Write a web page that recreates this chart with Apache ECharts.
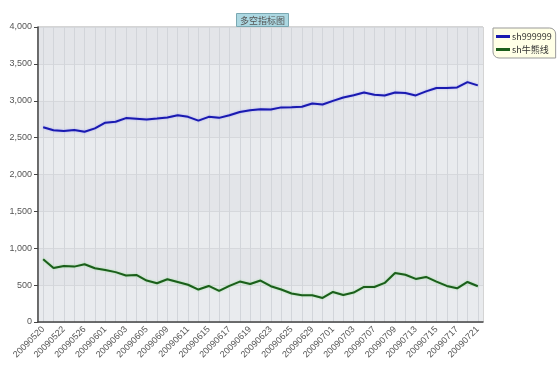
<!DOCTYPE html>
<html><head><meta charset="utf-8">
<script src="https://cdn.jsdelivr.net/npm/echarts@6/dist/echarts.min.js"></script>
<style>html,body{margin:0;padding:0;background:#fff}#c{width:560px;height:382px}</style>
</head><body><div id="c"></div>
<script>
const titleText = '多空指标图';
const dates = ['20090520','20090521','20090522','20090525','20090526','20090527',
 '20090601','20090602','20090603','20090604','20090605','20090608','20090609','20090610','20090611','20090612',
 '20090615','20090616','20090617','20090618','20090619','20090622','20090623','20090624','20090625','20090626',
 '20090629','20090630','20090701','20090702','20090703','20090706','20090707','20090708','20090709','20090710',
 '20090713','20090714','20090715','20090716','20090717','20090720','20090721'];
const seriesNames = ['sh999999','sh牛熊线'];
const sh999999 = [2640,2600,2590,2602,2580,2625,2703,2715,2765,2755,2745,2758,2772,2803,2782,2730,
 2782,2768,2803,2848,2872,2886,2882,2910,2913,2918,2963,2950,2998,3045,3075,3112,3082,3072,3112,3104,
 3072,3127,3172,3172,3180,3252,3208];
const shBull = [851,731,760,751,783,729,706,676,630,638,562,526,580,543,505,440,
 489,421,489,548,516,562,485,440,386,362,362,326,407,366,399,475,475,530,665,640,
 584,611,548,489,457,543,485];
const yTicks = {min:0, max:4000, interval:500};

const chart = echarts.init(document.getElementById('c'), null, {renderer:'canvas'});
chart.setOption({
  animation:false,
  backgroundColor:'#fff',
  title:{text:titleText, left:236, top:13,
    backgroundColor:'#acd8e2', borderColor:'#7aa8b2', borderWidth:1, padding:[3,4,2,4],
    textStyle:{fontSize:9, fontWeight:'normal', color:'#555', fontFamily:'Noto Sans CJK SC'}},
  legend:{orient:'vertical', left:493, top:28, itemWidth:14, itemHeight:3, itemGap:4,
    backgroundColor:'#ffffe6', borderColor:'#999', borderWidth:1, borderRadius:[0,6,0,6],
    padding:[4,4,4,3],
    textStyle:{fontSize:9, color:'#333', fontFamily:'Noto Sans CJK SC', padding:[0,0,0,-3]},
    icon:'rect',
    data:seriesNames},
  grid:{left:38, right:77, top:27, bottom:60, show:true, borderColor:'#aaa', borderWidth:1,
    backgroundColor:'#e7e9ec'},
  xAxis:{type:'category', data:dates, boundaryGap:true,
    axisLine:{lineStyle:{color:'#444', width:1.5}},
    axisTick:{interval:1, alignWithLabel:true, length:4, lineStyle:{color:'#444'}},
    axisLabel:{interval:1, rotate:45, fontSize:9, color:'#555', margin:6, fontFamily:'Liberation Sans'},
    splitLine:{show:true, interval:0, alignWithLabel:true, lineStyle:{color:'#d2d5da', width:1}}},
  yAxis:{type:'value', min:yTicks.min, max:yTicks.max, interval:yTicks.interval,
    axisLine:{show:true, lineStyle:{color:'#444', width:1.5}},
    axisTick:{show:true, length:4, lineStyle:{color:'#444'}},
    axisLabel:{fontSize:9, color:'#555', margin:6, fontFamily:'Liberation Sans',
      formatter:v=>v.toLocaleString('en-US')},
    splitLine:{show:true, lineStyle:{color:'#d6d8dc'}},
    splitArea:{show:true, areaStyle:{color:['#e9ebee','#e3e5e9']}}},
  series:[
    {name:seriesNames[0], type:'line', data:sh999999, symbol:'none', color:'#1a1ab0',
     lineStyle:{width:2, color:'#1a1ab0', shadowColor:'rgba(120,120,255,0.6)', shadowBlur:2}},
    {name:seriesNames[1], type:'line', data:shBull, symbol:'none', color:'#1b5e1b',
     lineStyle:{width:2, color:'#1b5e1b', shadowColor:'rgba(120,220,120,0.7)', shadowBlur:2}}
  ]
});
</script></body></html>
